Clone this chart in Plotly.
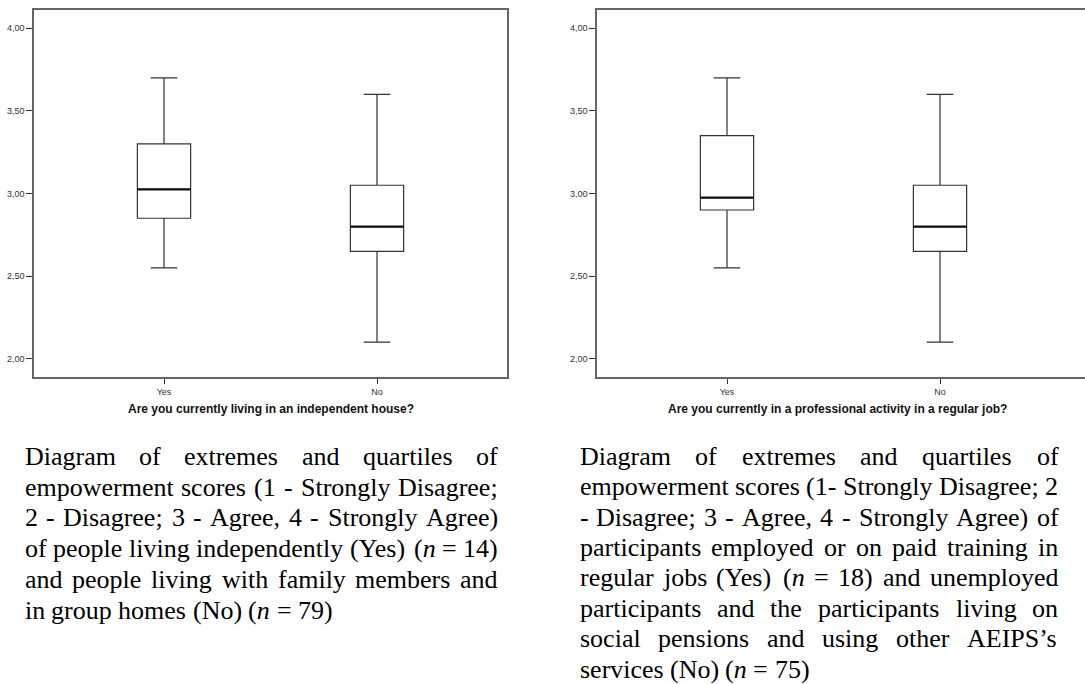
import re
import plotly.graph_objects as go

# ---------------- data ----------------
categories = ["Yes", "No"]

# Left panel: living in an independent house
left_upper = [3.70, 3.60]
left_q3 = [3.30, 3.05]
left_median = [3.025, 2.80]
left_q1 = [2.85, 2.65]
left_lower = [2.55, 2.10]

# Right panel: professional activity in a regular job
right_upper = [3.70, 3.60]
right_q3 = [3.35, 3.05]
right_median = [2.975, 2.80]
right_q1 = [2.90, 2.65]
right_lower = [2.55, 2.10]

y_ticks = [2.0, 2.5, 3.0, 3.5, 4.0]

left_xtitle = "Are you currently living in an independent house?"
right_xtitle = "Are you currently in a professional activity in a regular job?"

left_caption = [
    "Diagram of extremes and quartiles of",
    "empowerment scores (1 - Strongly Disagree;",
    "2 - Disagree; 3 - Agree, 4 - Strongly Agree)",
    "of people living independently (Yes) (n = 14)",
    "and people living with family members and",
    "in group homes (No) (n = 79)",
]
right_caption = [
    "Diagram of extremes and quartiles of",
    "empowerment scores (1- Strongly Disagree; 2",
    "- Disagree; 3 - Agree, 4 - Strongly Agree) of",
    "participants employed or on paid training in",
    "regular jobs (Yes) (n = 18) and unemployed",
    "participants and the participants living on",
    "social pensions and using other AEIPS\u2019s",
    "services (No) (n = 75)",
]

# ---------------- layout geometry ----------------
W, H = 1085, 684
ML, MR, MT, MB = 34, 0, 10, 307
PW = W - ML - MR
PH = H - MT - MB
PLOT_BOTTOM = H - MB


def xp(px):
    return (px - ML) / PW


def yp(py):
    return (PLOT_BOTTOM - py) / PH


BOX_W = 0.25
frame_col = "#666666"
box_col = "#333333"
tick_font = dict(family="Liberation Sans, Arial, sans-serif", size=9, color="#333333")

fig = go.Figure()

panels = [
    ("x", "y", left_upper, left_q3, left_median, left_q1, left_lower),
    ("x2", "y2", right_upper, right_q3, right_median, right_q1, right_lower),
]
for xa, ya, up, q3, med, q1, lo in panels:
    xs = list(range(len(categories)))
    fig.add_trace(go.Box(
        x=xs, q1=q1, median=med, q3=q3, lowerfence=lo, upperfence=up,
        width=BOX_W, whiskerwidth=0.5, fillcolor="white",
        line=dict(color=box_col, width=1.2),
        boxpoints=False, hoverinfo="skip", showlegend=False,
        xaxis=xa, yaxis=ya,
    ))
    for i, m in enumerate(med):
        fig.add_trace(go.Scatter(
            x=[i - BOX_W / 2, i + BOX_W / 2], y=[m, m], mode="lines",
            line=dict(color="#111111", width=2.2), hoverinfo="skip",
            showlegend=False, xaxis=xa, yaxis=ya,
        ))

# ---------------- caption text (justified) ----------------
TIMES_W = {' ': 250, 'a': 444, 'b': 500, 'c': 444, 'd': 500, 'e': 444, 'f': 333, 'g': 500,
           'h': 500, 'i': 278, 'j': 278, 'k': 500, 'l': 278, 'm': 778, 'n': 500, 'o': 500,
           'p': 500, 'q': 500, 'r': 333, 's': 389, 't': 278, 'u': 500, 'v': 500, 'w': 722,
           'x': 500, 'y': 500, 'z': 444, 'A': 722, 'B': 667, 'C': 667, 'D': 722, 'E': 611,
           'F': 556, 'G': 722, 'H': 722, 'I': 333, 'J': 389, 'K': 722, 'L': 611, 'M': 889,
           'N': 722, 'O': 722, 'P': 556, 'Q': 722, 'R': 667, 'S': 556, 'T': 611, 'U': 722,
           'V': 722, 'W': 944, 'X': 722, 'Y': 722, 'Z': 611, '(': 333, ')': 333, '-': 333,
           ';': 278, ',': 250, '.': 250, '=': 564, '\u2019': 333, '?': 444}
for d in "0123456789":
    TIMES_W[d] = 500

CAP_SIZE = 26
cap_font = dict(family="Liberation Serif, Times New Roman, serif", size=CAP_SIZE, color="#000000")


def word_w(w):
    return sum(TIMES_W.get(c, 500) for c in w) * CAP_SIZE / 1000.0


def markup(w):
    if w == "(n":
        return "(<i>n</i>"
    return w


annotations = []


def add_caption(lines, left_px, right_px, base0, step):
    for k, line in enumerate(lines):
        words = line.split(" ")
        widths = [word_w(w) for w in words]
        last = (k == len(lines) - 1)
        if last or len(words) == 1:
            gap = TIMES_W[' '] * CAP_SIZE / 1000.0
        else:
            gap = (right_px - left_px - sum(widths)) / (len(words) - 1)
        x = left_px
        baseline = base0 + k * step
        for w, ww in zip(words, widths):
            annotations.append(dict(
                x=xp(x), y=yp(baseline - 8.8), xref="paper", yref="paper",
                text=markup(w), showarrow=False, xanchor="left", yanchor="middle",
                font=cap_font, borderpad=0, borderwidth=0,
            ))
            x += ww + gap


add_caption(left_caption, 24.6, 498, 465, 30.8)
add_caption(right_caption, 579.5, 1058.3, 465, 30.4)

title_font = dict(family="Liberation Sans, Arial, sans-serif", size=12, color="#111111")
annotations.append(dict(x=xp(270.5), y=yp(409), xref="paper", yref="paper",
                        text="<b>%s</b>" % left_xtitle, showarrow=False,
                        xanchor="center", yanchor="middle", font=title_font))
annotations.append(dict(x=xp(837), y=yp(409), xref="paper", yref="paper",
                        text="<b>%s</b>" % right_xtitle, showarrow=False,
                        xanchor="center", yanchor="middle", font=title_font))

# ---------------- axes ----------------
px_per_unit = 213.0
left_dom = [xp(34), xp(507)]
right_dom = [xp(597), 1.0]
left_range = [-(164 - 34) / px_per_unit, 1 + (507 - 377) / px_per_unit]
right_range = [-(727 - 597) / px_per_unit, 1 + (1085 - 940) / px_per_unit]

common_x = dict(tickmode="array", tickvals=list(range(len(categories))), ticktext=categories,
                ticks="outside", ticklen=5, tickwidth=1.2, tickcolor=box_col,
                showline=True, linecolor=frame_col, linewidth=1.5,
                showgrid=False, zeroline=False, tickfont=tick_font, fixedrange=True)
common_y = dict(range=[1.889, 4.111], tickmode="array", tickvals=y_ticks, tickformat=".2f",
                ticks="outside", ticklen=6, tickwidth=1.2, tickcolor=box_col,
                showline=True, linecolor=frame_col, linewidth=1.5,
                showgrid=False, zeroline=False, tickfont=tick_font, fixedrange=True)

fig.update_layout(
    width=W, height=H,
    margin=dict(l=ML, r=MR, t=MT, b=MB, pad=0),
    paper_bgcolor="white", plot_bgcolor="white",
    separators=",.",
    showlegend=False,
    xaxis=dict(domain=left_dom, range=left_range, mirror=True, anchor="y", **common_x),
    yaxis=dict(domain=[0, 1], mirror=True, anchor="x", **common_y),
    xaxis2=dict(domain=right_dom, range=right_range, mirror=True, anchor="y2", **common_x),
    yaxis2=dict(domain=[0, 1], mirror=False, anchor="x2", **common_y),
    annotations=annotations,
)

fig.write_html(
    "out.html",
    config={"displayModeBar": False},
    post_script="document.body.style.margin='0';document.body.style.padding='0';"
                "document.body.style.overflow='hidden';",
)
